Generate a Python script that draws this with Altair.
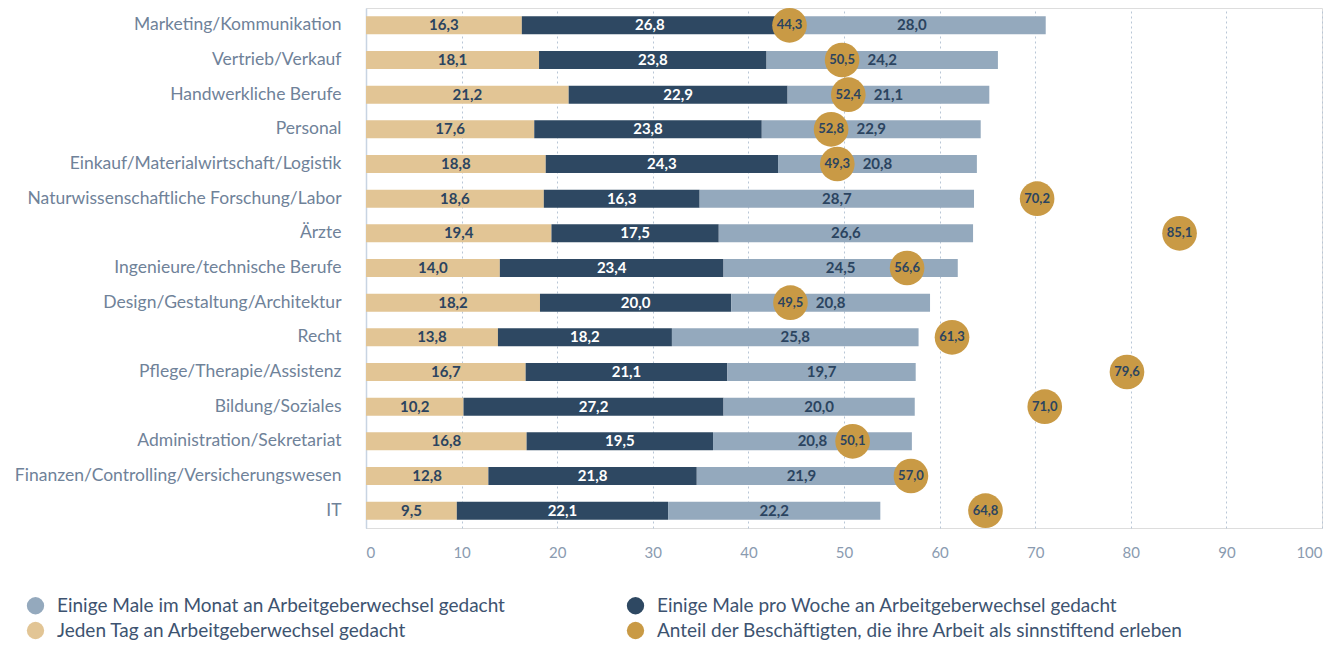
import altair as alt
import pandas as pd

categories = [
    "Marketing/Kommunikation", "Vertrieb/Verkauf", "Handwerkliche Berufe", "Personal",
    "Einkauf/Materialwirtschaft/Logistik", "Naturwissenschaftliche Forschung/Labor", "Ärzte",
    "Ingenieure/technische Berufe", "Design/Gestaltung/Architektur", "Recht",
    "Pflege/Therapie/Assistenz", "Bildung/Soziales", "Administration/Sekretariat",
    "Finanzen/Controlling/Versicherungswesen", "IT",
]
daily = [16.3, 18.1, 21.2, 17.6, 18.8, 18.6, 19.4, 14.0, 18.2, 13.8, 16.7, 10.2, 16.8, 12.8, 9.5]
weekly = [26.8, 23.8, 22.9, 23.8, 24.3, 16.3, 17.5, 23.4, 20.0, 18.2, 21.1, 27.2, 19.5, 21.8, 22.1]
monthly = [28.0, 24.2, 21.1, 22.9, 20.8, 28.7, 26.6, 24.5, 20.8, 25.8, 19.7, 20.0, 20.8, 21.9, 22.2]
meaning = [44.3, 50.5, 52.4, 52.8, 49.3, 70.2, 85.1, 56.6, 49.5, 61.3, 79.6, 71.0, 50.1, 57.0, 64.8]

S_MONTH = "Einige Male im Monat an Arbeitgeberwechsel gedacht"
S_WEEK = "Einige Male pro Woche an Arbeitgeberwechsel gedacht"
S_DAY = "Jeden Tag an Arbeitgeberwechsel gedacht"
S_MEAN = "Anteil der Beschäftigten, die ihre Arbeit als sinnstiftend erleben"
# legend is laid out column by column
series_domain = [S_MONTH, S_DAY, S_WEEK, S_MEAN]
series_colors = ["#94a9bd", "#e2c595", "#2e4862", "#c99a45"]


def de(v):
    return f"{v:.1f}".replace(".", ",")


rows = []
for i, c in enumerate(categories):
    for order, (s, vals, tc) in enumerate([(S_DAY, daily, "#2b4460"), (S_WEEK, weekly, "#ffffff"), (S_MONTH, monthly, "#2b4460")]):
        rows.append({"cat": c, "series": s, "value": vals[i], "order": order, "label": de(vals[i]), "tcolor": tc})
bars_df = pd.DataFrame(rows)
circ_df = pd.DataFrame({
    "cat": categories, "value": meaning, "series": S_MEAN, "label": [de(v) for v in meaning],
    "daily": daily, "weekly": weekly, "monthly": monthly,
})

FONT = "Lato"
y_enc = alt.Y("cat:N", sort=categories, title=None,
              scale=alt.Scale(paddingInner=0.48, paddingOuter=0.24),
              axis=alt.Axis(labelFont=FONT, labelFontSize=17.5, labelColor="#6f8299", labelPadding=25,
                            ticks=False, domain=True, domainColor="#c8d4e2", domainWidth=1.5,
                            labelLimit=360))
x_scale = alt.Scale(domain=[0, 100], nice=False)
color = alt.Color("series:N", scale=alt.Scale(domain=series_domain, range=series_colors),
                  legend=alt.Legend(title=None, orient="none", legendX=-340, legendY=588, columns=2,
                                    symbolType="circle", symbolSize=300, symbolStrokeWidth=0,
                                    labelFont=FONT, labelFontSize=19, labelColor="#3d5370",
                                    rowPadding=5, columnPadding=120, labelLimit=700, labelOffset=12))

base = alt.Chart(bars_df)
bars = base.mark_bar(size=18).encode(
    x=alt.X("value:Q", stack="zero", scale=x_scale, title=None,
            axis=alt.Axis(values=list(range(0, 101, 10)), labelFont=FONT, labelFontSize=15,
                          labelColor="#8a9bb0", labelPadding=17, ticks=False, domain=False,
                          grid=True, gridColor="#b8c6d6", gridDash=[2, 3], gridWidth=1)),
    y=y_enc,
    color=color,
    order=alt.Order("order:Q"),
)
bar_text = base.transform_stack(
    stack="value", groupby=["cat"], as_=["v0", "v1"], sort=[alt.SortField("order")]
).transform_calculate(mid="(datum.v0 + datum.v1) / 2").mark_text(
    font=FONT, fontSize=15, fontWeight="bold", baseline="middle"
).encode(
    x=alt.X("mid:Q", scale=x_scale),
    y=alt.Y("cat:N", sort=categories),
    text="label:N",
    color=alt.Color("tcolor:N", scale=None, legend=None),
)

# circles are nudged sideways when they would cover the label of the light segment
circ = alt.Chart(circ_df).transform_calculate(
    lmid="datum.daily + datum.weekly + datum.monthly / 2"
).transform_calculate(
    pos="abs(datum.value - datum.lmid) < 4.2 ? (datum.value < datum.lmid + 1 ? datum.lmid - 4.2 : datum.lmid + 4.2) : datum.value"
)
dots = circ.mark_point(filled=True, shape="circle", size=1200, opacity=1).encode(
    x=alt.X("pos:Q", scale=x_scale),
    y=alt.Y("cat:N", sort=categories),
    color=color,
)
dot_text = circ.mark_text(font=FONT, fontSize=13, fontWeight="bold", color="#2b4460", baseline="middle").encode(
    x=alt.X("pos:Q", scale=x_scale),
    y=alt.Y("cat:N", sort=categories),
    text="label:N",
)

chart = alt.layer(bars, bar_text, dots, dot_text).properties(
    width=956, height=520,
    autosize=alt.AutoSizeParams(type="none"),
    padding={"left": 358, "top": 0, "right": 13, "bottom": 112},
).configure_view(stroke=None).configure(background="#ffffff")

chart.save("out.html", embed_options={"renderer": "svg", "actions": False})
